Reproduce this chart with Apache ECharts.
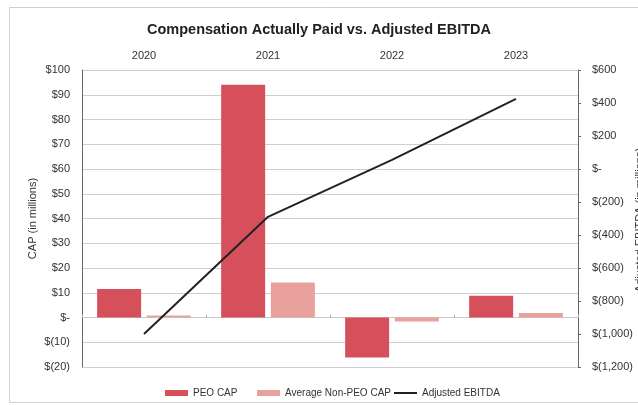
<!DOCTYPE html>
<html>
<head>
<meta charset="utf-8">
<script src="https://cdn.jsdelivr.net/npm/echarts@6/dist/echarts.min.js"></script>
<style>
  html, body { margin: 0; padding: 0; background: #fff; }
  #main { width: 638px; height: 405px; }
</style>
</head>
<body>
<div id="main"></div>
<script>
// data
var years = ['2020', '2021', '2022', '2023'];
var peoCap = [11.5, 94, -16.2, 8.8];
var nonPeoCap = [0.8, 14.1, -1.6, 1.8];
var adjEbitda = [-1000, -290, 55, 425];

// $(10) style labels
function money(v) {
    if (v === 0) return '$-';
    var s = Math.abs(v).toLocaleString('en-US');
    return v < 0 ? '$(' + s + ')' : '$' + s;
}

var font = 'Liberation Sans';
// one legend per item, placed like the original
function legendAt(left, name, icon) {
    return {
        top: 383,
        left: left,
        itemWidth: 23,
        itemHeight: 6,
        textStyle: { fontSize: 10, color: '#333', fontFamily: font },
        data: [{ name: name, icon: icon }]
    };
}

var chart = echarts.init(document.getElementById('main'));
chart.setOption({
    backgroundColor: '#fff',
    animation: false,
    textStyle: { fontFamily: font },
    title: {
        text: 'Compensation Actually Paid vs. Adjusted EBITDA',
        left: 'center',
        top: 17,
        textStyle: { fontSize: 14.5, fontWeight: 'bold', color: '#222', fontFamily: font }
    },
    grid: { left: 82, right: 60, top: 70, bottom: 38 },
    legend: [
        legendAt(160, 'PEO CAP', 'rect'),
        legendAt(252, 'Average Non-PEO CAP', 'rect'),
        legendAt(389, 'Adjusted EBITDA', 'path://M0,0 L23,0 L23,2 L0,2 Z')
    ],
    xAxis: {
        type: 'category',
        position: 'top',
        data: years,
        axisLine: { lineStyle: { color: '#c8c8c8' } },
        axisTick: { show: true, length: 3, lineStyle: { color: '#aaa' } },
        axisLabel: { fontSize: 11, color: '#333', margin: 9 }
    },
    yAxis: [{
        type: 'value',
        min: -20,
        max: 100,
        interval: 10,
        name: 'CAP (in millions)',
        nameLocation: 'middle',
        nameGap: 44,
        nameMoveOverlap: false,
        nameTextStyle: { fontSize: 11, color: '#333' },
        axisLine: { show: true, lineStyle: { color: '#666' } },
        axisTick: { show: false },
        axisLabel: { fontSize: 11, color: '#333', margin: 12, formatter: money },
        splitLine: { lineStyle: { color: '#cfcfcf' } }
    }, {
        type: 'value',
        min: -1200,
        max: 600,
        interval: 200,
        position: 'right',
        axisLine: { show: true, lineStyle: { color: '#666' } },
        axisTick: { show: true, length: 3, lineStyle: { color: '#666' } },
        axisLabel: { fontSize: 11, color: '#333', margin: 14, formatter: money },
        splitLine: { show: false }
    }],
    series: [{
        name: 'PEO CAP',
        type: 'bar',
        data: peoCap,
        barWidth: 44,
        barGap: '13%',
        itemStyle: { color: '#d6505c' }
    }, {
        name: 'Average Non-PEO CAP',
        type: 'bar',
        data: nonPeoCap,
        barWidth: 44,
        itemStyle: { color: '#e8a19d' }
    }, {
        name: 'Adjusted EBITDA',
        type: 'line',
        yAxisIndex: 1,
        data: adjEbitda,
        symbol: 'none',
        lineStyle: { color: '#222', width: 2 },
        itemStyle: { color: '#222' }
    }],
    graphic: [{
        type: 'rect',
        shape: { x: 9.5, y: 7.5, width: 640, height: 395 },
        style: { fill: 'none', stroke: '#d0d0d0', lineWidth: 1 },
        silent: true
    }, {
        type: 'text',
        x: 640,
        y: 220,
        rotation: Math.PI / 2,
        style: {
            text: 'Adjusted EBITDA (in millions)',
            fontSize: 11,
            fontFamily: font,
            fill: '#333',
            align: 'center',
            verticalAlign: 'middle'
        }
    }]
});
</script>
</body>
</html>
